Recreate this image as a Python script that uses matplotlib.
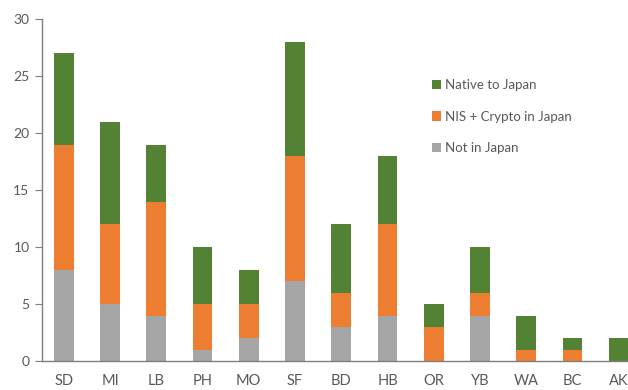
import matplotlib
matplotlib.use("Agg")
import matplotlib.pyplot as plt
import numpy as np

plt.rcParams['font.family'] = ['Lato', 'DejaVu Sans']

categories = ["SD", "MI", "LB", "PH", "MO", "SF", "BD", "HB", "OR", "YB", "WA", "BC", "AK"]
not_in_japan = [8, 5, 4, 1, 2, 7, 3, 4, 0, 4, 0, 0, 0]
nis_crypto = [11, 7, 10, 4, 3, 11, 3, 8, 3, 2, 1, 1, 0]
native = [8, 9, 5, 5, 3, 10, 6, 6, 2, 4, 3, 1, 2]
yticks = [0, 5, 10, 15, 20, 25, 30]

c_gray = "#a5a5a5"
c_orange = "#ed7d31"
c_green = "#548235"
txt = "#595959"

fig = plt.figure(figsize=(6.28, 3.9), dpi=100)
ax = fig.add_axes([0.067, 0.074, 0.933, 0.877])

x = np.arange(len(categories))
w = 0.43
g = np.array(not_in_japan)
o = np.array(nis_crypto)
n = np.array(native)
ax.bar(x, g, w, color=c_gray, label="Not in Japan")
ax.bar(x, o, w, bottom=g, color=c_orange, label="NIS + Crypto in Japan")
ax.bar(x, n, w, bottom=g + o, color=c_green, label="Native to Japan")

ax.set_xlim(-0.47, 12.2)
ax.set_ylim(0, 30)
ax.set_yticks(yticks)
ax.set_xticks(x)
ax.set_xticklabels(categories)
for s in ["top", "right"]:
    ax.spines[s].set_visible(False)
for s in ["left", "bottom"]:
    ax.spines[s].set_color("#7f7f7f")
    ax.spines[s].set_linewidth(1.0)
ax.tick_params(axis="y", length=5, color="#7f7f7f", labelsize=10, labelcolor=txt, pad=4)
ax.tick_params(axis="x", length=0, labelsize=10.5, labelcolor=txt, pad=9)

h, l = ax.get_legend_handles_labels()
leg = ax.legend(h[::-1], l[::-1], loc="upper left", bbox_to_anchor=(0.645, 0.86),
                frameon=False, fontsize=9.5, handlelength=0.7, handleheight=0.7,
                handletextpad=0.3, labelspacing=1.5)
for t in leg.get_texts():
    t.set_color(txt)

fig.savefig("out.png", dpi=100)
